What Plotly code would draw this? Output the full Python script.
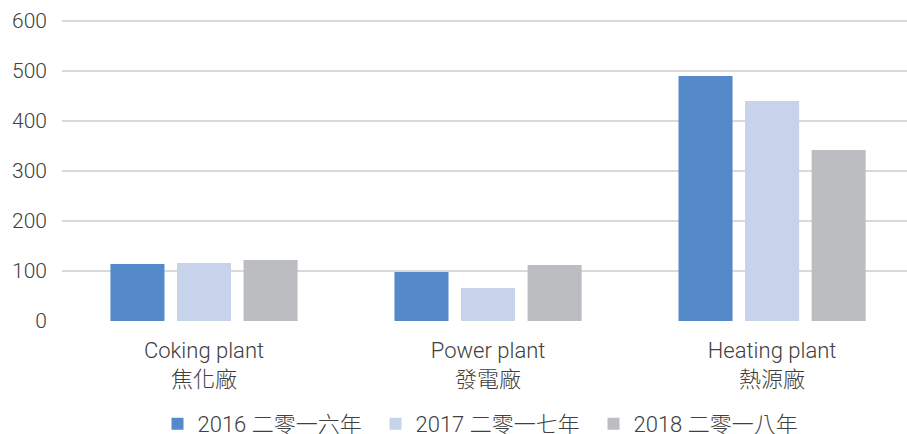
import plotly.graph_objects as go

categories = ["Coking plant<br>焦化廠", "Power plant<br>發電廠", "Heating plant<br>熱源廠"]
series_names = ["2016 二零一六年", "2017 二零一七年", "2018 二零一八年"]
values_2016 = [114, 98, 490]
values_2017 = [116, 66, 440]
values_2018 = [122, 112, 342]
colors = ["#558ACA", "#C7D3EA", "#BCBDC1"]
y_ticks = [0, 100, 200, 300, 400, 500, 600]

font_family = "Roboto, 'Noto Sans CJK TC', sans-serif"
text_color = "#404040"

fig = go.Figure()
for name, vals, col in zip(series_names, [values_2016, values_2017, values_2018], colors):
    fig.add_trace(go.Bar(x=[0, 1, 2], y=vals, name=name, marker=dict(color=col, line=dict(width=0))))

fig.update_layout(
    width=907, height=434,
    margin=dict(l=62, r=0, t=18, b=113, autoexpand=False),
    paper_bgcolor="white", plot_bgcolor="white",
    barmode="group", bargap=0.297, bargroupgap=0.188,
    font=dict(family=font_family, size=22, color=text_color, weight=300),
    showlegend=True,
    legend=dict(orientation="h", x=0.5, xanchor="center", y=-0.34, yanchor="middle",
                font=dict(size=22, color=text_color, weight=300), entrywidth=173,
                entrywidthmode="pixels", traceorder="normal"),
    xaxis=dict(range=[-0.5, 2.475], tickmode="array", tickvals=[0, 1, 2], ticktext=categories,
               showgrid=False, zeroline=False, showline=False, ticks="", automargin=False,
               ticklabelstandoff=14,
               tickfont=dict(size=22, color=text_color, weight=300)),
    yaxis=dict(range=[0, 606], tickmode="array", tickvals=y_ticks,
               showgrid=True, gridcolor="#D9D9D9", gridwidth=1.5, zeroline=False,
               showline=False, ticks="", ticklabelstandoff=14, automargin=False,
               tickfont=dict(size=21, color=text_color, weight=300)),
)

fig.write_html(
    "out.html",
    config={"displayModeBar": False},
    post_script="document.body.style.margin='0';document.body.style.overflow='hidden';",
)
